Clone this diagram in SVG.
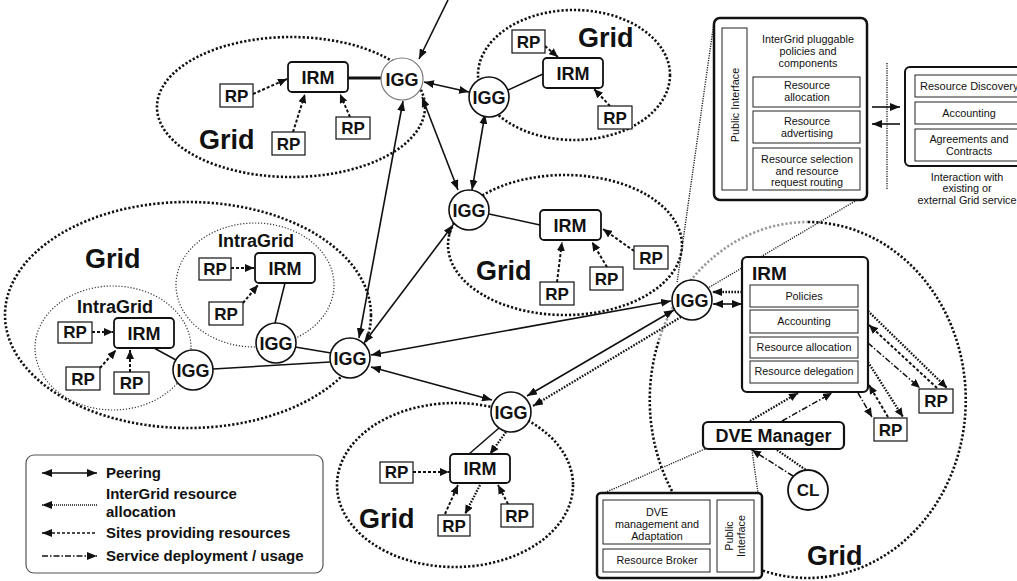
<svg xmlns="http://www.w3.org/2000/svg" width="1017" height="581" viewBox="0 0 1017 581">
<style>
text{font-family:"Liberation Sans",Arial,sans-serif;fill:#111}
.b{font-weight:bold}
.grid{font-weight:bold;font-size:27px}
.n18{font-weight:bold;font-size:18px;text-anchor:middle}
.rp{font-weight:bold;font-size:17px;text-anchor:middle}
.sm{font-size:10.8px;text-anchor:middle}
.lg{font-weight:bold;font-size:15px}
.ell{fill:none;stroke:#111;stroke-width:2.6;stroke-dasharray:2.2 2}
.iell{fill:none;stroke:#333;stroke-width:1.2;stroke-dasharray:1.2 1.8}
.zl{fill:none;stroke:#222;stroke-width:1.4;stroke-dasharray:1.2 1.2}
.peer{stroke:#111;stroke-width:1.6;fill:none}
.sol{stroke:#111;stroke-width:1.5;fill:none}
.dot{stroke:#111;stroke-width:2.3;stroke-dasharray:1.6 1.4;fill:none}
.dash{stroke:#111;stroke-width:2;stroke-dasharray:3 2;fill:none}
.dd{stroke:#111;stroke-width:1.5;stroke-dasharray:6 2 1.5 2;fill:none}
.box{fill:#fff;stroke:#111;stroke-width:1.2}
.irm{fill:#fff;stroke:#111;stroke-width:1.8}
.igg{fill:#fff;stroke:#111;stroke-width:1.6}
.thin{fill:#fff;stroke:#222;stroke-width:1}
</style>
<defs>
<marker id="ah" viewBox="0 0 10 8" refX="10" refY="4" markerWidth="10" markerHeight="8" markerUnits="userSpaceOnUse" orient="auto-start-reverse"><path d="M0,0 L10,4 L0,8 z" fill="#111"/></marker>
<marker id="as" viewBox="0 0 9 8" refX="9" refY="4" markerWidth="9" markerHeight="8" markerUnits="userSpaceOnUse" orient="auto-start-reverse"><path d="M0,0 L9,4 L0,8 z" fill="#111"/></marker>
</defs>
<rect width="1017" height="581" fill="#fff"/>

<g id="regions">
<ellipse class="ell" cx="291" cy="107" rx="134" ry="70"/>
<text class="grid" x="199" y="149">Grid</text>
<ellipse class="ell" cx="574" cy="75" rx="96" ry="65"/>
<text class="grid" x="578" y="47">Grid</text>
<ellipse class="ell" cx="188" cy="315" rx="183" ry="113"/>
<text class="grid" x="85" y="268">Grid</text>
<ellipse class="iell" cx="255" cy="285" rx="79" ry="62"/>
<text class="b" x="256" y="247" font-size="18" text-anchor="middle">IntraGrid</text>
<ellipse class="iell" cx="113" cy="348" rx="78" ry="62"/>
<text class="b" x="115" y="313" font-size="18" text-anchor="middle">IntraGrid</text>
<ellipse class="ell" cx="565" cy="245" rx="117" ry="70"/>
<text class="grid" x="476" y="280">Grid</text>
<ellipse class="ell" cx="455" cy="485" rx="118" ry="82"/>
<text class="grid" x="359" y="528">Grid</text>
<path class="ell" d="M659,340 A158,178 0 0 1 808,222" style="stroke:#999"/>
<path class="ell" d="M808,222 A158,178 0 1 1 659,340"/>
<text class="grid" x="807" y="565">Grid</text>
</g>

<g id="connectors">
<line class="zl" x1="714" y1="22" x2="677" y2="283"/>
<line class="zl" x1="857" y1="200" x2="708" y2="288"/>
<line class="zl" x1="887" y1="63" x2="887" y2="190"/>
<line class="zl" x1="705" y1="449" x2="604" y2="493"/>
<line class="zl" x1="752" y1="450" x2="758" y2="493"/>
<line class="dot" x1="777" y1="450" x2="806" y2="470"/>
<line class="peer" x1="448" y1="0" x2="419" y2="59" marker-end="url(#ah)"/>
<line class="peer" x1="424" y1="82" x2="469" y2="92" marker-start="url(#ah)" marker-end="url(#ah)"/>
<line class="peer" x1="403" y1="101" x2="359" y2="338" marker-start="url(#ah)" marker-end="url(#ah)"/>
<line class="peer" x1="422" y1="97" x2="458" y2="190" marker-start="url(#ah)" marker-end="url(#ah)"/>
<line class="peer" x1="485" y1="114" x2="472" y2="190" marker-start="url(#ah)" marker-end="url(#ah)"/>
<line class="peer" x1="453" y1="225" x2="364" y2="343" marker-start="url(#ah)" marker-end="url(#ah)"/>
<line class="peer" x1="371" y1="355" x2="671" y2="301" marker-start="url(#ah)" marker-end="url(#ah)"/>
<line class="peer" x1="371" y1="367" x2="492" y2="400" marker-start="url(#ah)" marker-end="url(#ah)"/>
<line class="peer" x1="674" y1="310" x2="527" y2="396" marker-start="url(#ah)" marker-end="url(#ah)"/>
<line class="dot" x1="681" y1="317" x2="533" y2="406" marker-end="url(#ah)"/>
<line class="peer" x1="713" y1="304" x2="742" y2="304" marker-start="url(#ah)" marker-end="url(#ah)"/>
<line class="dot" x1="742" y1="292" x2="712" y2="292" marker-end="url(#ah)"/>
<line x1="348" y1="78" x2="382" y2="78" stroke="#111" stroke-width="3"/>
<line class="sol" x1="508" y1="90" x2="543" y2="74"/>
<line class="sol" x1="489" y1="214" x2="540" y2="225"/>
<line class="sol" x1="285" y1="283" x2="275" y2="323"/>
<line class="sol" x1="154" y1="348" x2="176" y2="360"/>
<line class="sol" x1="213" y1="369" x2="330" y2="362"/>
<line class="sol" x1="295" y1="347" x2="331" y2="353"/>
<line class="sol" x1="499" y1="428" x2="469" y2="454"/>
<line class="dot" x1="506" y1="432" x2="490" y2="454" marker-end="url(#as)"/>
<line class="dash" x1="253" y1="94" x2="287" y2="79" marker-end="url(#as)"/>
<line class="dash" x1="293" y1="132" x2="305" y2="94" marker-end="url(#as)"/>
<line class="dash" x1="350" y1="117" x2="340" y2="94" marker-end="url(#as)"/>
<line class="dash" x1="545" y1="46" x2="558" y2="57" marker-end="url(#as)"/>
<line class="dash" x1="610" y1="106" x2="594" y2="89" marker-end="url(#as)"/>
<line class="dash" x1="231" y1="268" x2="254" y2="268" marker-end="url(#as)"/>
<line class="dash" x1="243" y1="303" x2="258" y2="285" marker-end="url(#as)"/>
<line class="dash" x1="92" y1="332" x2="113" y2="332" marker-end="url(#as)"/>
<line class="dash" x1="100" y1="368" x2="116" y2="350" marker-end="url(#as)"/>
<line class="dash" x1="130" y1="372" x2="130" y2="350" marker-end="url(#as)"/>
<line class="dash" x1="557" y1="282" x2="562" y2="242" marker-end="url(#as)"/>
<line class="dash" x1="607" y1="267" x2="592" y2="242" marker-end="url(#as)"/>
<line class="dash" x1="634" y1="251" x2="603" y2="229" marker-end="url(#as)"/>
<line class="dash" x1="413" y1="472" x2="449" y2="472" marker-end="url(#as)"/>
<line class="dash" x1="445" y1="514" x2="458" y2="485" marker-end="url(#as)"/>
<line class="dot" x1="480" y1="485" x2="465" y2="514" marker-end="url(#as)"/>
<line class="dash" x1="508" y1="504" x2="498" y2="485" marker-end="url(#as)"/>
<line class="dot" x1="868" y1="311" x2="947" y2="388" marker-end="url(#as)"/>
<line class="dash" x1="937" y1="388" x2="869" y2="325" marker-end="url(#as)"/>
<line class="dd" x1="868" y1="343" x2="920" y2="388" marker-end="url(#as)"/>
<line class="dd" x1="858" y1="393" x2="872" y2="417" marker-end="url(#as)"/>
<line class="dash" x1="888" y1="417" x2="869" y2="385" marker-end="url(#as)"/>
<line class="dot" x1="868" y1="362" x2="903" y2="417" marker-end="url(#as)"/>
<line class="dot" x1="750" y1="421" x2="798" y2="393" marker-end="url(#as)"/>
<line class="dd" x1="782" y1="421" x2="832" y2="393" marker-end="url(#as)"/>
<line class="dd" x1="793" y1="476" x2="752" y2="450" marker-end="url(#as)"/>
</g>

<g id="igg1"><circle cx="402" cy="79" r="21" fill="#fff" stroke="#777" stroke-width="1.2"/><text class="n18" x="402" y="86">IGG</text></g>
<g id="igg2"><circle class="igg" cx="489" cy="97" r="20"/><text class="n18" x="489" y="104">IGG</text></g>
<g id="igg4"><circle class="igg" cx="469" cy="210" r="20"/><text class="n18" x="469" y="217">IGG</text></g>
<g id="igg-central"><circle class="igg" cx="350" cy="358" r="20"/><text class="n18" x="350" y="365">IGG</text></g>
<g id="igg-intra1"><circle class="igg" cx="276" cy="343" r="20"/><text class="n18" x="276" y="350">IGG</text></g>
<g id="igg-intra2"><circle class="igg" cx="193" cy="370" r="20"/><text class="n18" x="193" y="377">IGG</text></g>
<g id="igg3"><circle class="igg" cx="692" cy="300" r="20"/><text class="n18" x="692" y="307">IGG</text></g>
<g id="igg5"><circle class="igg" cx="511" cy="412" r="20"/><text class="n18" x="511" y="419">IGG</text></g>

<g id="irm1"><rect class="irm" x="288" y="62" width="60" height="30" rx="4"/><text class="n18" x="318" y="84">IRM</text></g>
<g id="irm2"><rect class="irm" x="543" y="58" width="60" height="30" rx="4"/><text class="n18" x="573" y="80">IRM</text></g>
<g id="irm-intra1"><rect class="irm" x="255" y="253" width="60" height="30" rx="4"/><text class="n18" x="285" y="275">IRM</text></g>
<g id="irm-intra2"><rect class="irm" x="114" y="318" width="60" height="30" rx="4"/><text class="n18" x="144" y="340">IRM</text></g>
<g id="irm4"><rect class="irm" x="540" y="210" width="61" height="30" rx="4"/><text class="n18" x="570" y="232">IRM</text></g>
<g id="irm5"><rect class="irm" x="450" y="454" width="60" height="29" rx="4"/><text class="n18" x="480" y="475">IRM</text></g>

<g id="rps">
<g id="rp1"><rect class="box" x="220" y="84" width="33" height="23"/><text class="rp" x="236.5" y="102">RP</text></g>
<g id="rp2"><rect class="box" x="272" y="132" width="33" height="23"/><text class="rp" x="288.5" y="150">RP</text></g>
<g id="rp3"><rect class="box" x="336" y="117" width="34" height="22"/><text class="rp" x="353" y="134">RP</text></g>
<g id="rp4"><rect class="box" x="512" y="30" width="33" height="23"/><text class="rp" x="528.5" y="48">RP</text></g>
<g id="rp5"><rect class="box" x="598" y="106" width="34" height="23"/><text class="rp" x="615" y="124">RP</text></g>
<g id="rp6"><rect class="box" x="199" y="258" width="32" height="22"/><text class="rp" x="215" y="275">RP</text></g>
<g id="rp7"><rect class="box" x="209" y="302" width="34" height="23"/><text class="rp" x="226" y="320">RP</text></g>
<g id="rp8"><rect class="box" x="58" y="322" width="34" height="21"/><text class="rp" x="75" y="338">RP</text></g>
<g id="rp9"><rect class="box" x="66" y="367" width="34" height="23"/><text class="rp" x="83" y="385">RP</text></g>
<g id="rp10"><rect class="box" x="114" y="372" width="35" height="22"/><text class="rp" x="131.5" y="389">RP</text></g>
<g id="rp11"><rect class="box" x="540" y="282" width="34" height="23"/><text class="rp" x="557" y="300">RP</text></g>
<g id="rp12"><rect class="box" x="590" y="267" width="33" height="23"/><text class="rp" x="606.5" y="285">RP</text></g>
<g id="rp13"><rect class="box" x="634" y="246" width="34" height="23"/><text class="rp" x="651" y="264">RP</text></g>
<g id="rp14"><rect class="box" x="380" y="462" width="33" height="21"/><text class="rp" x="396.5" y="478">RP</text></g>
<g id="rp15"><rect class="box" x="438" y="515" width="32" height="21"/><text class="rp" x="454" y="532">RP</text></g>
<g id="rp16"><rect class="box" x="501" y="504" width="32" height="23"/><text class="rp" x="517" y="522">RP</text></g>
<g id="rp17"><rect class="box" x="919" y="389" width="34" height="24"/><text class="rp" x="936" y="407">RP</text></g>
<g id="rp18"><rect class="box" x="874" y="418" width="33" height="23"/><text class="rp" x="890.5" y="436">RP</text></g>
</g>

<g id="irm-detail">
<rect x="742" y="257" width="126" height="135" rx="5" fill="#fff" stroke="#111" stroke-width="2.2"/>
<text class="b" x="752" y="280" font-size="19">IRM</text>
<rect class="thin" x="750" y="285" width="108" height="22"/><text class="sm" x="804" y="300">Policies</text>
<rect class="thin" x="750" y="310" width="108" height="23"/><text class="sm" x="804" y="325">Accounting</text>
<rect class="thin" x="750" y="337" width="108" height="21"/><text class="sm" x="804" y="351">Resource allocation</text>
<rect class="thin" x="750" y="361" width="108" height="22"/><text class="sm" x="804" y="375">Resource delegation</text>
</g>

<g id="dve-manager"><rect x="703" y="422" width="141" height="27" rx="5" fill="#fff" stroke="#111" stroke-width="2.2"/><text class="n18" x="773.5" y="442">DVE Manager</text></g>
<g id="cl"><circle cx="808" cy="490" r="20" fill="#fff" stroke="#111" stroke-width="1.8"/><text class="rp" x="808" y="496">CL</text></g>

<g id="dve-detail">
<rect x="597" y="493" width="165" height="85" rx="4" fill="#fff" stroke="#111" stroke-width="2.5"/>
<rect class="thin" x="603" y="500" width="107" height="44"/>
<text class="sm" x="657" y="516">DVE</text>
<text class="sm" x="657" y="528">management and</text>
<text class="sm" x="657" y="540">Adaptation</text>
<rect class="thin" x="603" y="549" width="107" height="23"/>
<text class="sm" x="657" y="564">Resource Broker</text>
<rect class="thin" x="717" y="500" width="37" height="72"/>
<text class="sm" transform="translate(735,536) rotate(-90)" font-size="11.5"><tspan x="0" y="-2">Public</tspan><tspan x="0" y="10">Interface</tspan></text>
</g>

<g id="intergrid-detail">
<rect x="714" y="18" width="153" height="182" rx="6" fill="#fff" stroke="#111" stroke-width="2.5"/>
<rect class="thin" x="722" y="28" width="25" height="162"/>
<text class="sm" transform="translate(734.5,105) rotate(-90)" y="4.5" font-size="12">Public Interface</text>
<text class="sm" x="808" y="43" font-size="11">InterGrid pluggable</text>
<text class="sm" x="808" y="55" font-size="11">policies and</text>
<text class="sm" x="808" y="67" font-size="11">components</text>
<rect class="thin" x="753" y="77" width="107" height="30"/>
<text class="sm" x="807" y="89" font-size="11">Resource</text>
<text class="sm" x="807" y="101" font-size="11">allocation</text>
<rect class="thin" x="753" y="111" width="107" height="32"/>
<text class="sm" x="807" y="125" font-size="11">Resource</text>
<text class="sm" x="807" y="137" font-size="11">advertising</text>
<rect class="thin" x="753" y="148" width="107" height="42"/>
<text class="sm" x="807" y="163" font-size="11">Resource selection</text>
<text class="sm" x="807" y="175" font-size="11">and resource</text>
<text class="sm" x="807" y="186" font-size="11">request routing</text>
</g>

<g id="external-services">
<line class="peer" x1="872" y1="107" x2="900" y2="107" marker-end="url(#ah)"/>
<line class="peer" x1="900" y1="124" x2="872" y2="124" marker-end="url(#ah)"/>
<rect x="905" y="67" width="125" height="99" rx="5" fill="#fff" stroke="#111" stroke-width="2"/>
<rect class="thin" x="915" y="75" width="110" height="22"/>
<text x="920" y="90" font-size="11">Resource Discovery</text>
<rect class="thin" x="915" y="102" width="110" height="22"/>
<text class="sm" x="969" y="117" font-size="11">Accounting</text>
<rect class="thin" x="915" y="129" width="110" height="32"/>
<text class="sm" x="969" y="143" font-size="11">Agreements and</text>
<text class="sm" x="969" y="155" font-size="11">Contracts</text>
<text class="sm" x="967" y="181" font-size="11">Interaction with</text>
<text class="sm" x="967" y="192" font-size="11">existing or</text>
<text class="sm" x="967" y="204" font-size="11">external Grid service</text>
</g>

<g id="legend">
<rect x="26" y="455" width="297" height="118" rx="8" fill="#fff" stroke="#555" stroke-width="1.2"/>
<line class="peer" x1="42" y1="473" x2="97" y2="473" marker-start="url(#ah)" marker-end="url(#ah)"/>
<text class="lg" x="106" y="478">Peering</text>
<line x1="42" y1="505" x2="97" y2="505" stroke="#111" stroke-width="1.3" stroke-dasharray="1 1" marker-start="url(#ah)"/>
<text class="lg" x="106" y="499">InterGrid resource</text>
<text class="lg" x="106" y="517">allocation</text>
<line x1="42" y1="533" x2="97" y2="533" stroke="#111" stroke-width="1.4" stroke-dasharray="3 2" marker-start="url(#ah)"/>
<text class="lg" x="106" y="538">Sites providing resources</text>
<line x1="42" y1="556" x2="97" y2="556" stroke="#111" stroke-width="1.5" stroke-dasharray="6 2 1.5 2" marker-end="url(#ah)"/>
<text class="lg" x="106" y="561">Service deployment / usage</text>
</g>
</svg>
